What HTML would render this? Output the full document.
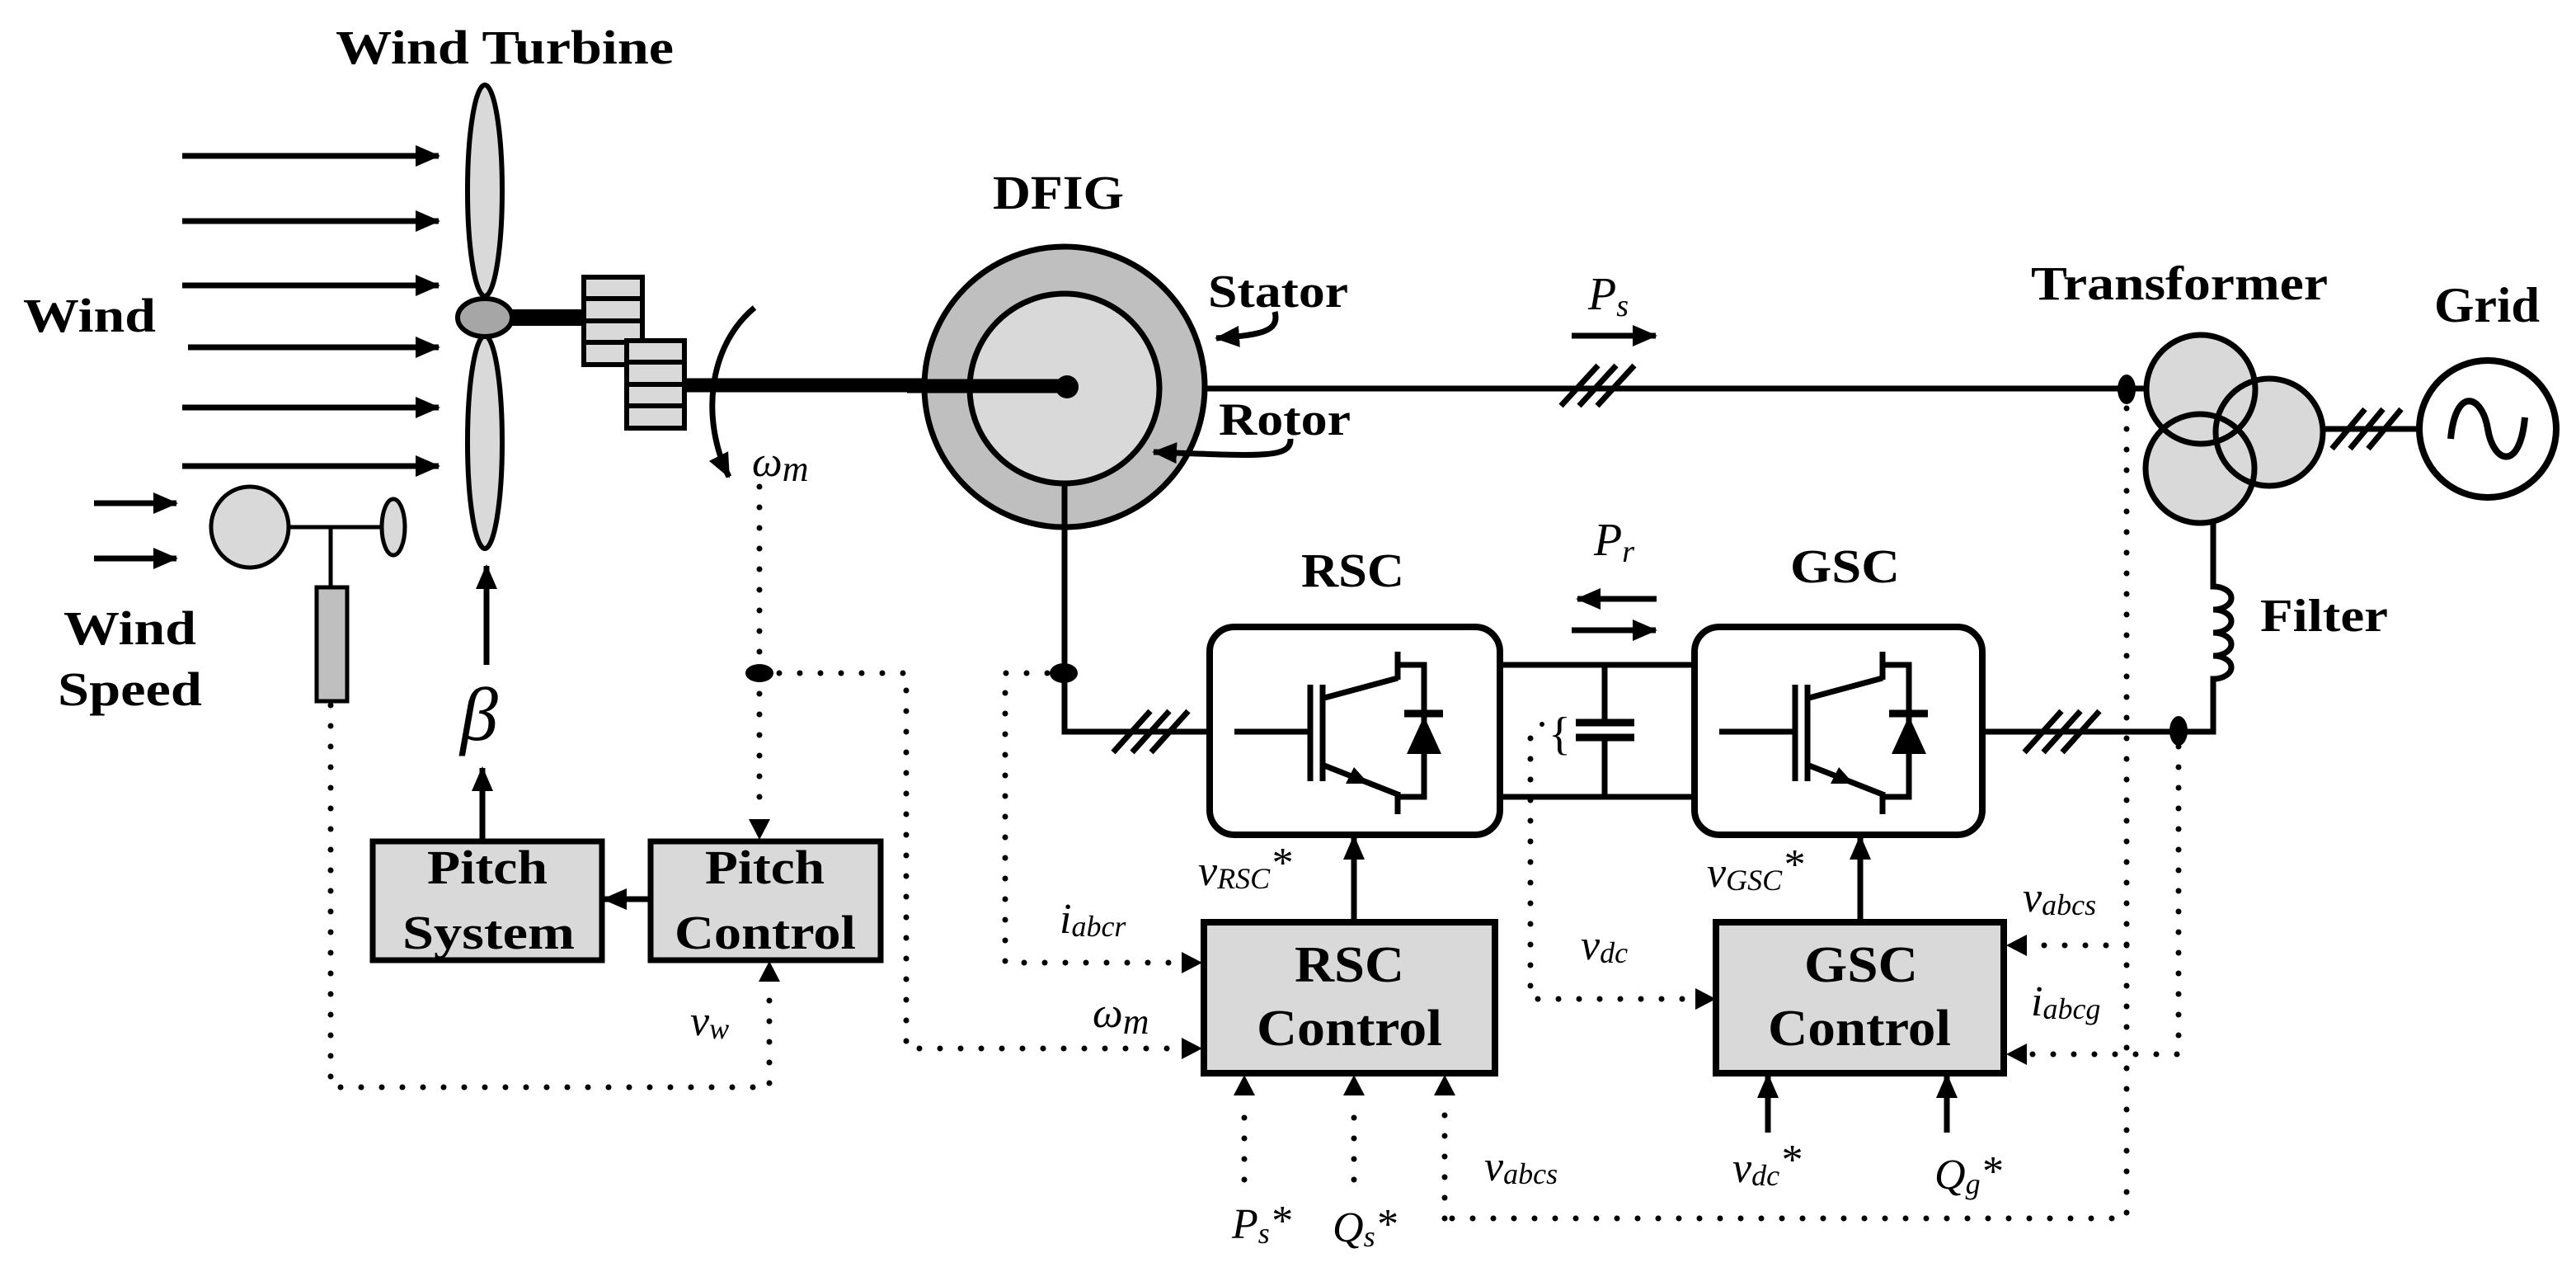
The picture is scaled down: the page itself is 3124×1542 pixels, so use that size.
<!DOCTYPE html>
<html><head><meta charset="utf-8"><style>
html,body{margin:0;padding:0;background:#fff;}
svg{display:block;}
.b{font-family:"Liberation Serif",serif;font-weight:bold;fill:#000;}
.i{font-family:"Liberation Serif",serif;font-style:italic;fill:#000;}
.ln{stroke:#000;stroke-width:7;fill:none;}
.dt{stroke:#000;stroke-width:7;fill:none;stroke-dasharray:0 25;stroke-linecap:round;}
</style></head><body>
<svg width="3124" height="1542" viewBox="0 0 3124 1542" xmlns="http://www.w3.org/2000/svg">
<defs>
<marker id="ah" markerUnits="userSpaceOnUse" markerWidth="30" markerHeight="26" refX="28" refY="13" orient="auto">
<path d="M0,0 L30,13 L0,26 z" fill="#000"/></marker>
</defs>
<rect width="3124" height="1542" fill="#fff"/>

<!-- Wind arrows -->
<g class="ln" marker-end="url(#ah)">
<line x1="221" y1="189" x2="532" y2="189"/>
<line x1="221" y1="268" x2="532" y2="268"/>
<line x1="221" y1="346" x2="532" y2="346"/>
<line x1="228" y1="421" x2="532" y2="421"/>
<line x1="221" y1="494" x2="532" y2="494"/>
<line x1="221" y1="565" x2="532" y2="565"/>
<line x1="114" y1="610" x2="214" y2="610"/>
<line x1="114" y1="677" x2="214" y2="677"/>
</g>
<text class="b" x="407" y="77" font-size="58" textLength="410" lengthAdjust="spacingAndGlyphs">Wind Turbine</text>
<text class="b" x="28" y="402" font-size="58" textLength="161" lengthAdjust="spacingAndGlyphs">Wind</text>
<text class="b" x="77" y="781" font-size="58" textLength="161" lengthAdjust="spacingAndGlyphs">Wind</text>
<text class="b" x="70" y="855" font-size="58" textLength="175" lengthAdjust="spacingAndGlyphs">Speed</text>

<!-- blades -->
<ellipse cx="588" cy="231" rx="21" ry="128" fill="#d9d9d9" stroke="#000" stroke-width="6"/>
<ellipse cx="588" cy="536" rx="21" ry="129" fill="#d9d9d9" stroke="#000" stroke-width="6"/>
<line x1="615" y1="385" x2="712" y2="385" stroke="#000" stroke-width="20"/>
<ellipse cx="588" cy="385" rx="33" ry="23" fill="#a6a6a6" stroke="#000" stroke-width="6"/>

<!-- anemometer -->
<line x1="351" y1="639" x2="463" y2="639" stroke="#000" stroke-width="5"/>
<line x1="401" y1="639" x2="401" y2="712" stroke="#000" stroke-width="5"/>
<ellipse cx="303" cy="639" rx="47" ry="49" fill="#d9d9d9" stroke="#000" stroke-width="5"/>
<ellipse cx="477" cy="639" rx="14" ry="34" fill="#d9d9d9" stroke="#000" stroke-width="5"/>
<rect x="384" y="712" width="37" height="138" fill="#bfbfbf" stroke="#000" stroke-width="5"/>

<!-- beta -->
<line class="ln" x1="590" y1="806" x2="590" y2="686" marker-end="url(#ah)"/>
<text class="i" x="558" y="897" font-size="92">β</text>

<!-- main shaft & gearbox -->
<line x1="825" y1="467" x2="1294" y2="467" stroke="#000" stroke-width="17"/>
<g fill="#d9d9d9" stroke="#000" stroke-width="6">
<rect x="708" y="336" width="71" height="106"/>
<line x1="708" y1="362" x2="779" y2="362"/><line x1="708" y1="389" x2="779" y2="389"/><line x1="708" y1="415" x2="779" y2="415"/>
<rect x="760" y="413" width="70" height="106"/>
<line x1="760" y1="439" x2="830" y2="439"/><line x1="760" y1="466" x2="830" y2="466"/><line x1="760" y1="492" x2="830" y2="492"/>
</g>
<path class="ln" d="M915,373 C858,420 850,510 884,578" stroke-width="6" marker-end="url(#ah)"/>
<text class="i" x="912" y="577" font-size="52">ω<tspan font-size="44" dy="6">m</tspan></text>

<!-- DFIG -->
<text class="b" x="1204" y="253" font-size="58" textLength="159" lengthAdjust="spacingAndGlyphs">DFIG</text>
<circle cx="1291" cy="469" r="170" fill="#bfbfbf" stroke="#000" stroke-width="7"/>
<circle cx="1291" cy="471" r="115" fill="#d9d9d9" stroke="#000" stroke-width="7"/>
<line x1="1100" y1="468" x2="1294" y2="468" stroke="#000" stroke-width="17"/>
<circle cx="1294" cy="469" r="14" fill="#000"/>
<text class="b" x="1465" y="372" font-size="56" textLength="170" lengthAdjust="spacingAndGlyphs">Stator</text>
<text class="b" x="1478" y="527" font-size="56" textLength="160" lengthAdjust="spacingAndGlyphs">Rotor</text>
<path class="ln" d="M1546,378 C1552,402 1530,406 1475,410" stroke-width="5" marker-end="url(#ah)"/>
<path class="ln" d="M1565,532 C1566,556 1530,553 1399,548" stroke-width="5" marker-end="url(#ah)"/>

<!-- stator line -->
<line class="ln" x1="1461" y1="471" x2="2604" y2="471"/>
<g stroke="#000" stroke-width="7">
<line x1="1893" y1="492" x2="1938" y2="443"/><line x1="1915" y1="492" x2="1960" y2="443"/><line x1="1937" y1="492" x2="1982" y2="443"/>
</g>
<text class="i" x="1926" y="375" font-size="56">P<tspan font-size="38" dy="8">s</tspan></text>
<line class="ln" x1="1906" y1="407" x2="2008" y2="407" marker-end="url(#ah)"/>
<ellipse cx="2579" cy="472" rx="11" ry="18" fill="#000"/>

<!-- transformer -->
<g fill="#d9d9d9">
<circle cx="2669" cy="472" r="66"/><circle cx="2752" cy="524" r="65"/><circle cx="2668" cy="568" r="66"/>
</g>
<g fill="none" stroke="#000" stroke-width="7">
<circle cx="2669" cy="472" r="66"/><circle cx="2752" cy="524" r="65"/><circle cx="2668" cy="568" r="66"/>
</g>
<text class="b" x="2463" y="363" font-size="58" textLength="360" lengthAdjust="spacingAndGlyphs">Transformer</text>
<text class="b" x="2952" y="390" font-size="60" textLength="128" lengthAdjust="spacingAndGlyphs">Grid</text>
<line class="ln" x1="2815" y1="520" x2="2935" y2="520"/>
<g stroke="#000" stroke-width="7">
<line x1="2828" y1="544" x2="2868" y2="496"/><line x1="2850" y1="544" x2="2890" y2="496"/><line x1="2872" y1="544" x2="2912" y2="496"/>
</g>
<circle cx="3017" cy="520" r="83" fill="#fff" stroke="#000" stroke-width="8"/>
<path d="M2972,532 C2978,468 3010,478 3017,520 C3024,562 3056,572 3062,506" fill="none" stroke="#000" stroke-width="8"/>

<!-- filter -->
<path class="ln" d="M2684,634 L2684,711 a22,14 0 0 1 0,28 a22,14 0 0 1 0,28 a22,14 0 0 1 0,28 a22,14 0 0 1 0,28 L2684,887 L2400,887"/>
<text class="b" x="2741" y="765" font-size="56" textLength="155" lengthAdjust="spacingAndGlyphs">Filter</text>

<!-- rotor lead -->
<path class="ln" d="M1291,584 L1291,887 L1470,887"/>
<ellipse cx="1290" cy="816" rx="17" ry="12" fill="#000"/>
<g stroke="#000" stroke-width="7">
<line x1="1350" y1="912" x2="1395" y2="862"/><line x1="1373" y1="912" x2="1418" y2="862"/><line x1="1396" y1="912" x2="1441" y2="862"/>
<line x1="2455" y1="912" x2="2500" y2="862"/><line x1="2478" y1="912" x2="2523" y2="862"/><line x1="2501" y1="912" x2="2546" y2="862"/>
</g>
<ellipse cx="2642" cy="886" rx="11" ry="18" fill="#000"/>

<!-- RSC / GSC boxes -->
<text class="b" x="1578" y="711" font-size="58" textLength="125" lengthAdjust="spacingAndGlyphs">RSC</text>
<text class="b" x="2171" y="706" font-size="58" textLength="133" lengthAdjust="spacingAndGlyphs">GSC</text>
<rect x="1467" y="760" width="352" height="252" rx="30" fill="#fff" stroke="#000" stroke-width="8"/>
<rect x="2055" y="760" width="349" height="252" rx="30" fill="#fff" stroke="#000" stroke-width="8"/>
<g id="igbt" stroke="#000" stroke-width="7" fill="none">
<line x1="1497" y1="887" x2="1589" y2="887"/>
<line x1="1589" y1="830" x2="1589" y2="947"/>
<line x1="1604" y1="830" x2="1604" y2="947"/>
<line x1="1606" y1="846" x2="1695" y2="822"/>
<line x1="1695" y1="790" x2="1695" y2="824"/>
<polyline points="1695,806 1727,806 1727,966 1695,966"/>
<line x1="1606" y1="928" x2="1695" y2="963"/>
<line x1="1695" y1="960" x2="1695" y2="987"/>
<line x1="1703" y1="865" x2="1750" y2="865" stroke-width="9"/>
<polygon points="1727,868 1706,914 1748,914" fill="#000" stroke="none"/>
<polygon points="1660,950 1632,950 1642,930" fill="#000" stroke="none"/>
</g>
<use href="#igbt" x="588" y="0"/>
<!-- DC link -->
<g class="ln">
<line x1="1819" y1="806" x2="2055" y2="806"/>
<line x1="1819" y1="966" x2="2055" y2="966"/>
<line x1="1946" y1="806" x2="1946" y2="876"/>
<line x1="1946" y1="894" x2="1946" y2="966"/>
</g>
<line x1="1911" y1="876" x2="1982" y2="876" stroke="#000" stroke-width="9"/>
<line x1="1911" y1="894" x2="1982" y2="894" stroke="#000" stroke-width="9"/>
<text x="1878" y="908" font-family="Liberation Serif,serif" font-size="56">{</text>
<circle cx="1870" cy="878" r="3" fill="#000"/>
<text class="i" x="1933" y="673" font-size="56">P<tspan font-size="38" dy="8">r</tspan></text>
<line class="ln" x1="2009" y1="726" x2="1913" y2="726" marker-end="url(#ah)"/>
<line class="ln" x1="1906" y1="764" x2="2008" y2="764" marker-end="url(#ah)"/>

<!-- Control boxes -->
<rect x="1460" y="1118" width="353" height="183" fill="#d9d9d9" stroke="#000" stroke-width="8"/>
<rect x="2081" y="1118" width="349" height="183" fill="#d9d9d9" stroke="#000" stroke-width="8"/>
<text class="b" x="1570" y="1190" font-size="62" textLength="133" lengthAdjust="spacingAndGlyphs">RSC</text>
<text class="b" x="1524" y="1267" font-size="62" textLength="225" lengthAdjust="spacingAndGlyphs">Control</text>
<text class="b" x="2188" y="1190" font-size="62" textLength="138" lengthAdjust="spacingAndGlyphs">GSC</text>
<text class="b" x="2144" y="1267" font-size="62" textLength="222" lengthAdjust="spacingAndGlyphs">Control</text>
<line class="ln" x1="1642" y1="1118" x2="1642" y2="1014" marker-end="url(#ah)"/>
<line class="ln" x1="2256" y1="1118" x2="2256" y2="1014" marker-end="url(#ah)"/>
<line class="ln" x1="2144" y1="1373" x2="2144" y2="1303" marker-end="url(#ah)"/>
<line class="ln" x1="2361" y1="1373" x2="2361" y2="1303" marker-end="url(#ah)"/>

<!-- Pitch boxes -->
<rect x="452" y="1020" width="278" height="144" fill="#d9d9d9" stroke="#000" stroke-width="7"/>
<rect x="789" y="1020" width="279" height="144" fill="#d9d9d9" stroke="#000" stroke-width="7"/>
<text class="b" x="518" y="1071" font-size="58" textLength="146" lengthAdjust="spacingAndGlyphs">Pitch</text>
<text class="b" x="488" y="1150" font-size="58" textLength="209" lengthAdjust="spacingAndGlyphs">System</text>
<text class="b" x="855" y="1071" font-size="58" textLength="145" lengthAdjust="spacingAndGlyphs">Pitch</text>
<text class="b" x="818" y="1150" font-size="58" textLength="220" lengthAdjust="spacingAndGlyphs">Control</text>
<line class="ln" x1="585" y1="1020" x2="585" y2="931" marker-end="url(#ah)"/>
<line class="ln" x1="789" y1="1090" x2="732" y2="1090" marker-end="url(#ah)"/>

<!-- dotted signal lines -->
<g class="dt">
<path d="M401,855 L401,1318 L933,1318 L933,1192" />
<path d="M921,590 L921,816 L1099,816 L1099,1271 L1432,1271"/>
<path d="M921,816 L921,991"/>
<path d="M1270,816 L1219,816 L1219,1167 L1432,1167"/>
<path d="M2579,495 L2579,1477 L1752,1477"/>
<path d="M2642,905 L2642,1278 L2460,1278"/>
<path d="M2579,1146 L2460,1146"/>
<path d="M1856,895 L1856,1211 L2050,1211"/>
<path d="M1509,1430 L1509,1330"/>
<path d="M1642,1430 L1642,1330"/>
<path d="M1752,1477 L1752,1330"/>
</g>
<!-- dotted arrow heads -->
<g fill="#000">
<polygon points="933,1165 920,1190 946,1190"/>
<polygon points="921,1018 908,993 934,993"/>
<polygon points="1458,1271 1433,1258 1433,1284"/>
<polygon points="1458,1167 1433,1154 1433,1180"/>
<polygon points="2081,1211 2056,1198 2056,1224"/>
<polygon points="2433,1146 2458,1133 2458,1159"/>
<polygon points="2433,1278 2458,1265 2458,1291"/>
<polygon points="1509,1303 1496,1328 1522,1328"/>
<polygon points="1642,1303 1629,1328 1655,1328"/>
<polygon points="1752,1303 1739,1328 1765,1328"/>
</g>
<ellipse cx="921" cy="816" rx="17" ry="11" fill="#000"/>

<!-- italic labels -->
<g class="i" font-size="52">
<text x="837" y="1255">v<tspan font-size="36" dy="4">w</tspan></text>
<text x="1285" y="1131">i<tspan font-size="36" dy="4">abcr</tspan></text>
<text x="1325" y="1245">ω<tspan font-size="44" dy="8">m</tspan></text>
<text x="1453" y="1073">v<tspan font-size="36" dy="4">RSC</tspan><tspan dy="-14">*</tspan></text>
<text x="2070" y="1075">v<tspan font-size="36" dy="4">GSC</tspan><tspan dy="-14">*</tspan></text>
<text x="1917" y="1163">v<tspan font-size="36" dy="4">dc</tspan></text>
<text x="2453" y="1105">v<tspan font-size="36" dy="4">abcs</tspan></text>
<text x="2463" y="1231">i<tspan font-size="36" dy="4">abcg</tspan></text>
<text x="1800" y="1431">v<tspan font-size="36" dy="4">abcs</tspan></text>
<text x="1494" y="1501">P<tspan font-size="36" dy="6">s</tspan><tspan dy="-10">*</tspan></text>
<text x="1616" y="1505">Q<tspan font-size="36" dy="6">s</tspan><tspan dy="-10">*</tspan></text>
<text x="2101" y="1433">v<tspan font-size="36" dy="4">dc</tspan><tspan dy="-14">*</tspan></text>
<text x="2346" y="1441">Q<tspan font-size="36" dy="6">g</tspan><tspan dy="-10">*</tspan></text>
</g>
</svg>
</body></html>
